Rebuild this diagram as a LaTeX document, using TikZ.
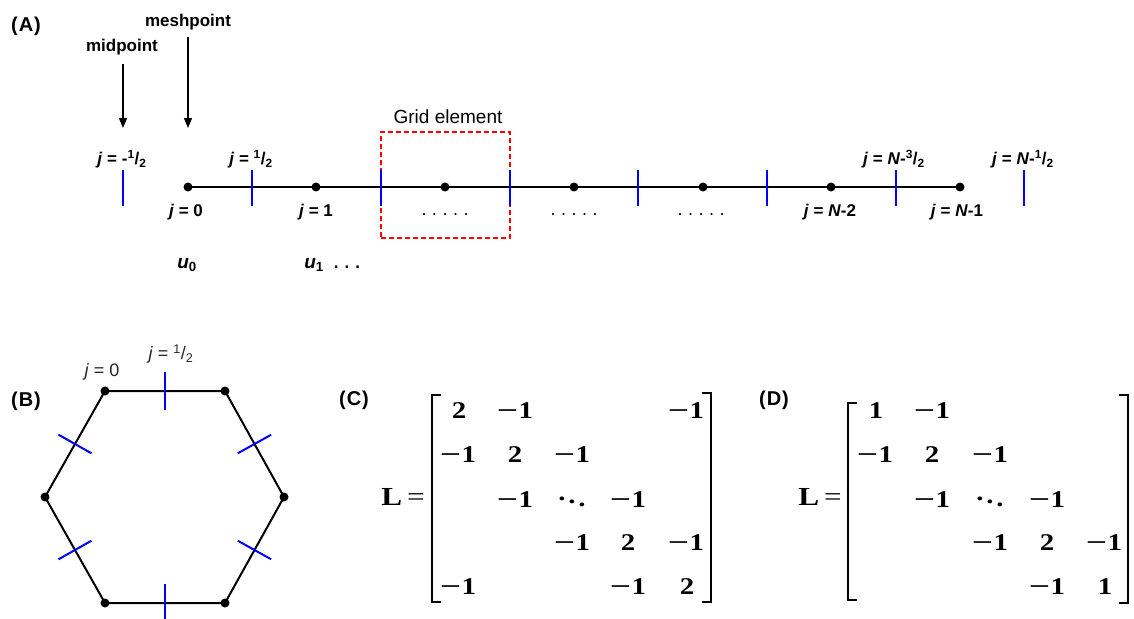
\documentclass[tikz,border=0pt]{standalone}
\usepackage{fontspec}
\setmainfont{Liberation Sans}
\newfontfamily\serif[FakeStretch=1.2]{Liberation Serif}
\usetikzlibrary{arrows.meta,calc}
\newcommand{\hf}[2]{\textsuperscript{#1}/\textsubscript{#2}}
\newcommand{\jj}{\textit{j}}
\newcommand{\mn}{\scalebox{1.3}[1]{−}\kern0.5pt}
\begin{document}
\begin{tikzpicture}[x=1pt,y=-1pt,
  lbl/.style={font=\fontsize{17}{20}\selectfont\bfseries, inner sep=0pt},
  plab/.style={font=\fontsize{20}{22}\selectfont\bfseries, inner sep=0pt},
  reg/.style={font=\fontsize{18}{21}\selectfont, inner sep=0pt},
  dot/.style={circle, fill=black, inner sep=0pt, minimum size=9pt},
  axis/.style={line width=2pt},
  tick/.style={blue, line width=2pt},
  arr/.style={line width=1.3pt, -{Triangle[length=10pt,width=8pt]}},
  ent/.style={font=\serif\fontsize{24}{26}\selectfont\bfseries, inner sep=0pt},
  eq/.style={font=\serif\fontsize{26}{28}\selectfont, inner sep=0pt},
  brk/.style={line width=2pt},
  gridbox/.style={draw=red, line width=1.5pt, dash pattern=on 5pt off 3pt, minimum width=129pt, minimum height=106pt, inner sep=0pt}
]
\useasboundingbox (0,0) rectangle (1134,618);

% ---------- (A) ----------
\node[plab] (labA) at (26,26) {(\kern1ptA\kern1pt)};
\node[lbl] (mid) at (122,47) {midpoint};
\node[lbl] (mesh) at (188,22) {meshpoint};
\coordinate (midS) at (123,64);
\coordinate (midE) at (123,128);
\coordinate (meshS) at (188,37);
\coordinate (meshE) at (188,128);
\draw[arr] (midS) -- (midE);
\draw[arr] (meshS) -- (meshE);

\node[gridbox] (grid) at (445.5,185) {};
\node[reg, font=\fontsize{19}{21}\selectfont] (gridlbl) at (448,117) {Grid element};

\foreach \i/\x in {0/188,1/316,2/445,3/574,4/703,5/831,6/960}
  \node[dot] (m\i) at (\x,187) {};
\draw[axis] (m0.center) -- (m6.center);
\foreach \i/\x in {0/123,1/252,2/381,3/510,4/638,5/767,6/896,7/1024}{
  \coordinate (h\i) at (\x,188);
  \draw[tick] ([yshift=18pt]h\i) -- ([yshift=-18pt]h\i);
}

\node[lbl] (lh0) at (122,159) {\jj\ = -\hf{1}{2}};
\node[lbl] (lh1) at (251,159) {\jj\ = \hf{1}{2}};
\node[lbl] (lh6) at (894,159) {\jj\ = \textit{N}-\hf{3}{2}};
\node[lbl] (lh7) at (1023,159) {\jj\ = \textit{N}-\hf{1}{2}};

\node[lbl] (lm0) at (186,212) {\jj\ = 0};
\node[lbl] (lm1) at (316,212) {\jj\ = 1};
\node[lbl] (lm5) at (830,212) {\jj\ = \textit{N}-2};
\node[lbl] (lm6) at (957,212) {\jj\ = \textit{N}-1};

\foreach \i/\x in {a/445,b/574,c/701}
  \node[reg] (dd\i) at (\x,215) {.\hspace{5.5pt}.\hspace{5.5pt}.\hspace{5.5pt}.\hspace{5.5pt}.};

\node[lbl, font=\fontsize{19}{21}\selectfont\bfseries] (u0) at (187,265) {\textit{u}\textsubscript{0}};
\node[lbl, font=\fontsize{19}{21}\selectfont\bfseries] (u1) at (314,265) {\textit{u}\textsubscript{1}};
\node[lbl] (udots) at (347,267) {.\hspace{6pt}.\hspace{6pt}.};

% ---------- (B) ----------
\node[plab] (labB) at (26,401) {(\kern1ptB\kern1pt)};
\node[dot] (x0) at (105,391) {};
\node[dot] (x1) at (225,391) {};
\node[dot] (x2) at (284,497) {};
\node[dot] (x3) at (225,603) {};
\node[dot] (x4) at (105,603) {};
\node[dot] (x5) at (45,497) {};
\draw[axis] (x0.center) -- (x1.center) -- (x2.center) -- (x3.center) -- (x4.center) -- (x5.center) -- cycle;
\foreach \a/\b in {x0/x1,x1/x2,x2/x3,x3/x4,x4/x5,x5/x0}
  \draw[tick] ($(\a)!0.5!(\b)!19pt!90:(\b)$) -- ($(\a)!0.5!(\b)!19pt!-90:(\b)$);
\node[reg, text=black!85] (hj0) at (102,372) {\textit{j} = 0};
\node[reg, text=black!85] (hj1) at (171,354) {\textit{j} = \hf{1}{2}};

% ---------- (C) ----------
\node[plab] (labC) at (354,400) {(\kern1ptC\kern1pt)};
\node[eq] (LC) at (403,497) {\bfseries L\kern5pt\mdseries=};
\draw[brk] (441,395) -- (432,395) -- (432,602) -- (441,602);
\draw[brk] (702,393) -- (711,393) -- (711,602) -- (702,602);
\foreach \n/\x/\y/\t in {
  c11/459/411/2, c12/515/411/\mn1, c15/686/411/\mn1,
  c21/458/455/\mn1, c22/515/455/2, c23/572/455/\mn1,
  c32/515/500/\mn1, c34/628/500/\mn1,
  c43/572/543/\mn1, c44/628/543/2, c45/686/543/\mn1,
  c51/458/587/\mn1, c54/628/587/\mn1, c55/687/587/2}
  \node[ent] (\n) at (\x,\y) {\t};
\node[ent] (c33) at (572,499) {$\ddots$};

% ---------- (D) ----------
\node[plab] (labD) at (774,400) {(\kern1ptD\kern1pt)};
\node[eq] (LD) at (820,497) {\bfseries L\kern5pt\mdseries=};
\draw[brk] (857,403) -- (848,403) -- (848,600) -- (857,600);
\draw[brk] (1119,395) -- (1128,395) -- (1128,603) -- (1119,603);
\foreach \n/\x/\y/\t in {
  d11/876/411/1, d12/932/411/\mn1,
  d21/875/455/\mn1, d22/932/455/2, d23/990/455/\mn1,
  d32/932/500/\mn1, d34/1047/500/\mn1,
  d43/990/543/\mn1, d44/1047/543/2, d45/1104/543/\mn1,
  d54/1047/587/\mn1, d55/1105/587/1}
  \node[ent] (\n) at (\x,\y) {\t};
\node[ent] (d33) at (990,499) {$\ddots$};
\end{tikzpicture}
\end{document}
